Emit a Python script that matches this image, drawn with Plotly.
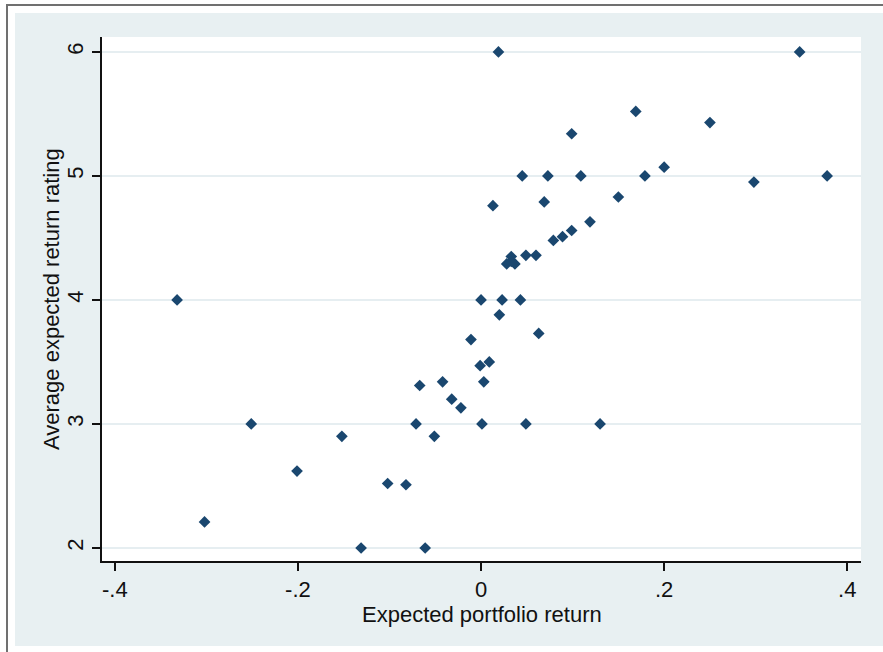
import plotly.graph_objects as go

# Data
x_return = [-0.332, -0.302, -0.251, -0.201, -0.152, -0.131, -0.102, -0.082,
            -0.067, -0.071, -0.061, -0.051, -0.042, -0.032, -0.022, -0.011,
            -0.001, 0.009, 0.003, 0.001, 0.049, 0.130, 0.000, 0.023, 0.043,
            0.020, 0.063, 0.028, 0.033, 0.037, 0.033, 0.049, 0.060, 0.079,
            0.089, 0.099, 0.119, 0.150, 0.013, 0.069, 0.045, 0.073, 0.109,
            0.179, 0.200, 0.099, 0.169, 0.250, 0.298, 0.378, 0.019, 0.348]
y_rating = [4.0, 2.21, 3.0, 2.62, 2.90, 2.0, 2.52, 2.51,
            3.31, 3.0, 2.0, 2.90, 3.34, 3.20, 3.13, 3.68,
            3.47, 3.50, 3.34, 3.0, 3.0, 3.0, 4.0, 4.0, 4.0,
            3.88, 3.73, 4.29, 4.35, 4.29, 4.31, 4.36, 4.36, 4.48,
            4.51, 4.56, 4.63, 4.83, 4.76, 4.79, 5.0, 5.0, 5.0,
            5.0, 5.07, 5.34, 5.52, 5.43, 4.95, 5.0, 6.0, 6.0]

x_tickvals = [-0.4, -0.2, 0, 0.2, 0.4]
x_ticktext = ["-.4", "-.2", "0", ".2", ".4"]
y_tickvals = [2, 3, 4, 5, 6]
y_ticktext = ["2", "3", "4", "5", "6"]

x_title = "Expected portfolio return"
y_title = "Average expected return rating"

W, H = 883, 652
ML, MR, MT, MB = 102, 22, 37, 91
PW, PH = W - ML - MR, H - MT - MB

def px(xp):
    return (xp - ML) / PW

def py(yp):
    return (H - MB - yp) / PH

BG = "#e8f0f2"
NAVY = "#1a476f"
FONT = "Liberation Sans, Arial, sans-serif"
FS = 22

fig = go.Figure()
fig.add_trace(go.Scatter(
    x=x_return, y=y_rating, mode="markers",
    marker=dict(symbol="diamond", size=9, color=NAVY, line=dict(width=0)),
    showlegend=False, hoverinfo="x+y",
))

shapes = [
    dict(type="rect", xref="paper", yref="paper", x0=px(0), x1=px(15), y0=py(0), y1=py(H),
         fillcolor="white", line=dict(width=0), layer="below"),
    dict(type="rect", xref="paper", yref="paper", x0=px(0), x1=px(W), y0=py(0), y1=py(13),
         fillcolor="white", line=dict(width=0), layer="below"),
    dict(type="rect", xref="paper", yref="paper", x0=px(0), x1=px(W), y0=py(646), y1=py(H),
         fillcolor="white", line=dict(width=0), layer="below"),
    dict(type="line", xref="paper", yref="paper", x0=px(7), x1=px(7), y0=py(5), y1=py(H),
         line=dict(color="#707070", width=2), layer="below"),
    dict(type="line", xref="paper", yref="paper", x0=px(6), x1=px(W), y0=py(5), y1=py(5),
         line=dict(color="#707070", width=2), layer="below"),
]

fig.update_layout(
    width=W, height=H, autosize=False,
    margin=dict(l=ML, r=MR, t=MT, b=MB, pad=0),
    paper_bgcolor=BG, plot_bgcolor="white",
    font=dict(family=FONT, size=FS, color="#111111"),
    shapes=shapes,
    xaxis=dict(
        range=[-0.414, 0.415], tickvals=x_tickvals, ticktext=x_ticktext,
        showgrid=False, zeroline=False, showline=True, linecolor="#111111", linewidth=1.5,
        ticks="outside", ticklen=8, tickwidth=1.5, tickcolor="#111111",
        tickfont=dict(family=FONT, size=FS, color="#111111"),
    ),
    yaxis=dict(
        range=[1.895, 6.12], tickvals=y_tickvals, ticktext=y_ticktext, tickangle=-90,
        showgrid=True, gridcolor="#e6eef1", gridwidth=1.5,
        zeroline=False, showline=True, linecolor="#111111", linewidth=1.5,
        ticks="outside", ticklen=8, tickwidth=1.5, tickcolor="#111111",
        tickfont=dict(family=FONT, size=FS, color="#111111"),
    ),
    annotations=[
        dict(text=x_title, xref="paper", yref="paper", x=0.5, y=py(614),
             xanchor="center", yanchor="middle", showarrow=False,
             font=dict(family=FONT, size=FS, color="#111111")),
        dict(text=y_title, xref="paper", yref="paper", x=px(51), y=0.5,
             xanchor="center", yanchor="middle", showarrow=False, textangle=-90,
             font=dict(family=FONT, size=FS, color="#111111")),
    ],
)

fig.write_html(
    "out.html",
    config={"displayModeBar": False},
    post_script="document.body.style.margin='0';document.body.style.padding='0';",
)
